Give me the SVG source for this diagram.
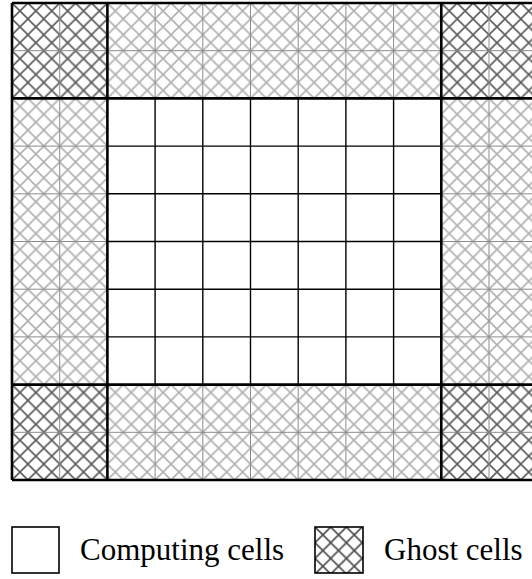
<svg xmlns="http://www.w3.org/2000/svg" width="532" height="579" viewBox="0 0 532 579">
<defs>
<pattern id="hatchDark" patternUnits="userSpaceOnUse" x="12" y="3" width="15.9" height="15.9">
<path d="M-2,-2 L17.9,17.9 M17.9,-2 L-2,17.9" stroke="#5a5a5a" stroke-width="1.6" fill="none"/>
</pattern>
<pattern id="hatchLight" patternUnits="userSpaceOnUse" x="12" y="3" width="15.9" height="15.9">
<path d="M-2,-2 L17.9,17.9 M17.9,-2 L-2,17.9" stroke="#b0b0b0" stroke-width="1.6" fill="none"/>
</pattern>
<pattern id="hatchLegend" patternUnits="userSpaceOnUse" x="315" y="527" width="15.7" height="15.7">
<path d="M-2,-2 L17.7,17.7 M17.7,-2 L-2,17.7" stroke="#4a4a4a" stroke-width="1.6" fill="none"/>
</pattern>
</defs>
<style>
.dark{fill:url(#hatchDark);stroke:none}
.light{fill:url(#hatchLight);stroke:none}
.inner{fill:#fff;stroke:none}
.grey{stroke:#8a8a8a;stroke-width:1;fill:none}
.thin{stroke:#000;stroke-width:1.4;fill:none}
.thick{stroke:#000;stroke-width:2.6;fill:none}
.lbl{font-family:"Times New Roman","Liberation Serif",Tinos,"DejaVu Serif","Noto Serif",FreeSerif,serif;font-size:31px;fill:#000}
.box{stroke:#000;stroke-width:1.6}
</style>
<rect width="532" height="579" fill="#fff"/>
<g id="corner-top-left"><rect class="dark" x="12" y="3" width="95.4" height="95.4"/></g>
<g id="corner-top-right"><rect class="dark" x="441.3" y="3" width="95.4" height="95.4"/></g>
<g id="corner-bottom-left"><rect class="dark" x="12" y="384.6" width="95.4" height="95.4"/></g>
<g id="corner-bottom-right"><rect class="dark" x="441.3" y="384.6" width="95.4" height="95.4"/></g>
<g id="ghost-top"><rect class="light" x="107.4" y="3" width="333.9" height="95.4"/></g>
<g id="ghost-bottom"><rect class="light" x="107.4" y="384.6" width="333.9" height="95.4"/></g>
<g id="ghost-left"><rect class="light" x="12" y="98.4" width="95.4" height="286.2"/></g>
<g id="ghost-right"><rect class="light" x="441.3" y="98.4" width="95.4" height="286.2"/></g>
<g id="computing"><rect class="inner" x="107.4" y="98.4" width="333.9" height="286.2"/></g>
<g id="gridlines">
<path class="grey" d="M59.7,3 V480 M489,3 V480 M12,50.7 H536.7 M12,432.3 H536.7
M155.1,3 V98.4 M202.8,3 V98.4 M250.5,3 V98.4 M298.2,3 V98.4 M345.9,3 V98.4 M393.6,3 V98.4
M155.1,384.6 V480 M202.8,384.6 V480 M250.5,384.6 V480 M298.2,384.6 V480 M345.9,384.6 V480 M393.6,384.6 V480
M12,146.1 H107.4 M12,193.8 H107.4 M12,241.5 H107.4 M12,289.2 H107.4 M12,336.9 H107.4
M441.3,146.1 H536.7 M441.3,193.8 H536.7 M441.3,241.5 H536.7 M441.3,289.2 H536.7 M441.3,336.9 H536.7"/>
<path class="thin" d="M155.1,98.4 V384.6 M202.8,98.4 V384.6 M250.5,98.4 V384.6 M298.2,98.4 V384.6 M345.9,98.4 V384.6 M393.6,98.4 V384.6
M107.4,146.1 H441.3 M107.4,193.8 H441.3 M107.4,241.5 H441.3 M107.4,289.2 H441.3 M107.4,336.9 H441.3"/>
<path class="thick" d="M12,3 V480 M107.4,3 V480 M441.3,3 V480 M12,3 H536.7 M12,98.4 H536.7 M12,384.6 H536.7 M12,480 H536.7"/>
</g>
<g id="legend-computing">
<rect class="box" x="12" y="527" width="47" height="46" fill="#fff"/>
<text class="lbl" x="80" y="560">Computing cells</text>
</g>
<g id="legend-ghost">
<rect class="box" x="315" y="527" width="48" height="46" fill="url(#hatchLegend)"/>
<text class="lbl" x="384" y="560">Ghost cells</text>
</g>
</svg>
